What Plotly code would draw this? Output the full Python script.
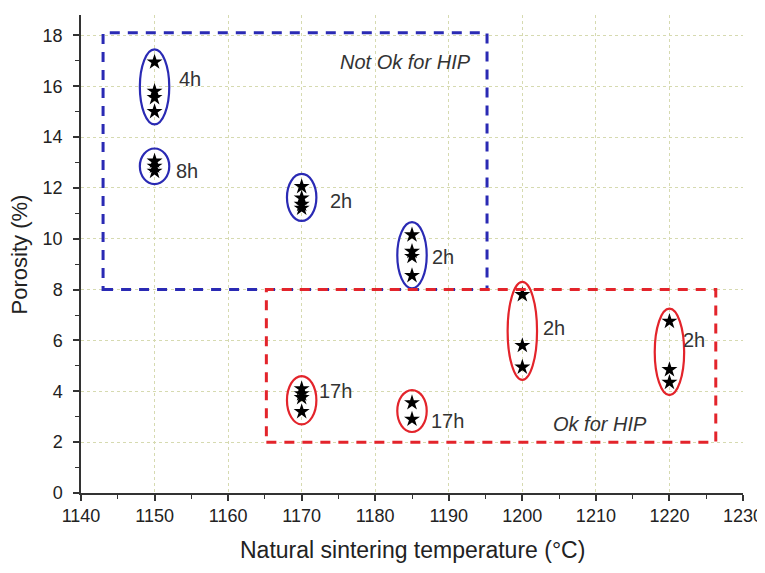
import plotly.graph_objects as go

# ---- data ----
group_temps = [1150, 1150, 1170, 1185, 1200, 1220, 1170, 1185]
group_labels = ["4h", "8h", "2h", "2h", "2h", "2h", "17h", "17h"]
group_porosity = [
    [16.95, 15.8, 15.55, 15.0],
    [13.05, 12.85, 12.65],
    [12.05, 11.6, 11.35, 11.2],
    [10.15, 9.5, 9.3, 8.55],
    [7.8, 5.8, 4.95],
    [6.75, 4.85, 4.35],
    [4.1, 3.9, 3.75, 3.2],
    [3.55, 2.9],
]
group_ok = [False, False, False, False, True, True, True, True]

x_ticks = [1140, 1150, 1160, 1170, 1180, 1190, 1200, 1210, 1220, 1230]
y_ticks = [0, 2, 4, 6, 8, 10, 12, 14, 16, 18]

not_ok_region = dict(x0=1143, x1=1195.2, y0=8.0, y1=18.1)
ok_region = dict(x0=1165.2, x1=1226.3, y0=2.0, y1=8.0)
region_texts = ["Not Ok for HIP", "Ok for HIP"]
x_title = "Natural sintering temperature (°C)"
y_title = "Porosity (%)"

# label placement (dx, y) relative to group, layout only
label_pos = [(3.1, 16.3), (2.6, 12.66), (3.6, 11.5), (2.4, 9.28),
             (2.5, 6.5), (1.6, 6.0), (2.1, 4.0), (2.3, 2.83)]

BLUE = "#2a2ab4"
RED = "#e3242b"
FONT = "Liberation Sans, Arial"

fig = go.Figure()

xs, ys = [], []
for t, vals in zip(group_temps, group_porosity):
    xs += [t] * len(vals)
    ys += vals
fig.add_trace(go.Scatter(
    x=xs, y=ys, mode="markers",
    marker=dict(symbol="star", size=12, color="black", line=dict(width=0)),
    showlegend=False, hoverinfo="x+y"))

# ellipses around groups
for t, vals, ok in zip(group_temps, group_porosity, group_ok):
    pad = 0.5
    fig.add_shape(type="circle", xref="x", yref="y",
                  x0=t - 2.0, x1=t + 2.0,
                  y0=min(vals) - pad, y1=max(vals) + pad,
                  line=dict(color=RED if ok else BLUE, width=2.2))

# dashed regions
fig.add_shape(type="rect", xref="x", yref="y", **not_ok_region,
              line=dict(color=BLUE, width=3, dash="10px,8px"))
fig.add_shape(type="rect", xref="x", yref="y", **ok_region,
              line=dict(color=RED, width=3, dash="10px,8px"))

# group labels
for t, lab, (dx, yy) in zip(group_temps, group_labels, label_pos):
    fig.add_annotation(x=t + dx, y=yy, text=lab, showarrow=False,
                       xanchor="left", yanchor="middle",
                       font=dict(family=FONT, size=20, color="#333333"))

fig.add_annotation(x=1184.1, y=16.94, text="<i>" + region_texts[0] + "</i>", showarrow=False,
                   xanchor="center", yanchor="middle",
                   font=dict(family=FONT, size=20, color="#333333"))
fig.add_annotation(x=1210.6, y=2.71, text="<i>" + region_texts[1] + "</i>", showarrow=False,
                   xanchor="center", yanchor="middle",
                   font=dict(family=FONT, size=20, color="#333333"))

# axis titles
fig.add_annotation(xref="paper", yref="paper", x=0.5, y=-0.12, text=x_title,
                   showarrow=False, xanchor="center", yanchor="middle",
                   font=dict(family=FONT, size=23, color="#222222"))
fig.add_annotation(xref="paper", yref="paper", x=-0.093, y=0.5, text=y_title,
                   showarrow=False, xanchor="center", yanchor="middle", textangle=-90,
                   font=dict(family=FONT, size=22, color="#222222"))

axis_common = dict(
    showline=True, linecolor="#333333", linewidth=1.5,
    ticks="outside", ticklen=6, tickwidth=1.5, tickcolor="#333333",
    showgrid=True, gridcolor="#d6dab0", griddash="dot", gridwidth=1,
    zeroline=False, mirror=False, automargin=False,
    ticklabeloverflow="allow",
    tickfont=dict(family=FONT, size=18, color="#222222"),
    minor=dict(ticks="outside", ticklen=4, tickwidth=1.2, tickcolor="#333333", showgrid=False),
)

fig.update_xaxes(range=[1140, 1230], tickvals=x_ticks, ticktext=[str(v) for v in x_ticks],
                 minor_dtick=5, **axis_common)
fig.update_yaxes(range=[0, 18.8], tickvals=y_ticks, ticktext=[str(v) for v in y_ticks],
                 minor_dtick=1, ticklabelstandoff=7, **axis_common)

# page body adds an 8px offset; compensate so the plot area lands at x 81..743, y 15..493
fig.update_layout(
    width=757, height=565,
    margin=dict(l=73, r=22, t=7, b=80),
    plot_bgcolor="white", paper_bgcolor="white",
)

fig.write_html("out.html")
